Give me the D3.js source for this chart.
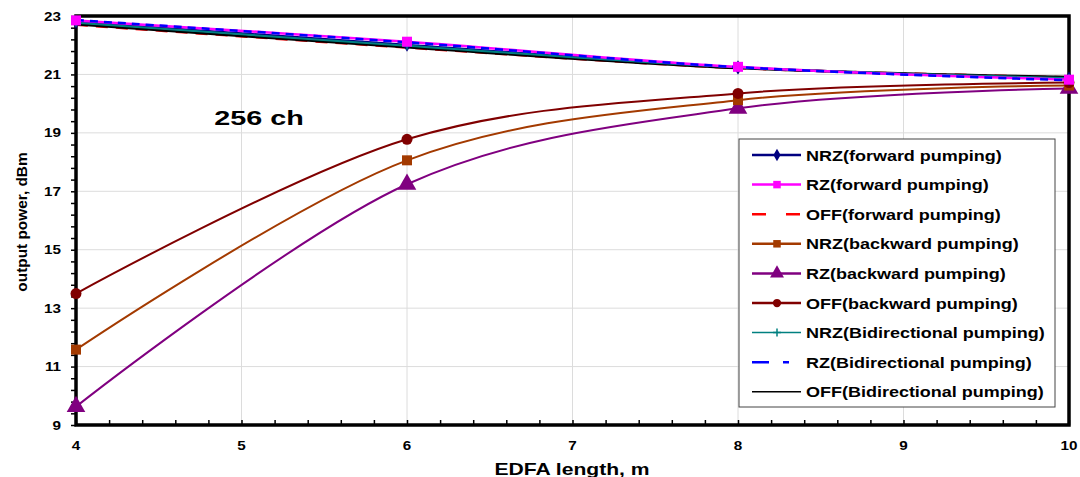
<!DOCTYPE html>
<html>
<head>
<meta charset="utf-8">
<script src="https://cdn.jsdelivr.net/npm/d3@7"></script>
<style>
body { margin:0; background:#fff; }
text { font-family: Arial, "Liberation Sans", sans-serif; font-weight: bold; }
</style>
</head>
<body>
<svg id="svg" width="1080" height="477"></svg>
<script>
var svg = d3.select("#svg");

var lengths = [4, 6, 8, 10];
var xTicks = [4, 5, 6, 7, 8, 9, 10],
    yTicks = [9, 11, 13, 15, 17, 19, 21, 23];

var nrzFwd  = [22.80, 22.02, 21.24, 20.85],
    rzFwd   = [22.85, 22.12, 21.26, 20.82],
    offFwd  = [22.70, 21.92, 21.22, 20.90],
    nrzBwd  = [11.58, 18.06, 20.12, 20.62],
    rzBwd   = [9.63, 17.24, 19.84, 20.52],
    offBwd  = [13.50, 18.78, 20.35, 20.72],
    nrzBi   = [22.77, 21.98, 21.24, 20.88],
    rzBi    = [22.86, 22.10, 21.25, 20.80],
    offBi   = [22.72, 21.93, 21.22, 20.91];

var names = ["NRZ(forward pumping)", "RZ(forward pumping)", "OFF(forward pumping)",
             "NRZ(backward pumping)", "RZ(backward pumping)", "OFF(backward pumping)",
             "NRZ(Bidirectional pumping)", "RZ(Bidirectional pumping)", "OFF(Bidirectional pumping)"];

var series = [
    {v:rzBwd,  c:"#800080", m:"tri",     dash:null, w:2},
    {v:nrzBwd, c:"#a33a00", m:"square",  dash:null, w:2},
    {v:offBwd, c:"#800000", m:"circle",  dash:null, w:2},
    {v:offFwd, c:"#ff0000", m:null,      dash:"12,8", w:2.5},
    {v:offBi,  c:"#000000", m:null,      dash:null, w:2.5},
    {v:nrzFwd, c:"#000080", m:"diamond", dash:null, w:2},
    {v:nrzBi,  c:"#008080", m:"plus",    dash:null, w:2},
    {v:rzFwd,  c:"#ff00ff", m:"square",  dash:null, w:2.5},
    {v:rzBi,   c:"#0000ff", m:null,      dash:"8,6", w:2.5}
];
// legend order
var legend = [5, 7, 3, 1, 0, 2, 6, 8, 4].map(function(i){ return series[i]; });

var x = d3.scaleLinear().domain([4, 10]).range([76, 1069]),
    y = d3.scaleLinear().domain([9, 23]).range([425, 16]);

// stretched text like the original
function label(g, tx, ty, size, sx, anchor, str) {
    return g.append("text").attr("transform", "translate(" + tx + "," + ty + ") scale(" + sx + ",1)")
        .attr("font-size", size).attr("text-anchor", anchor).text(str);
}

// grid
svg.append("g").selectAll().data(xTicks.slice(1)).enter().append("line")
    .attr("x1", d=>x(d)).attr("x2", d=>x(d)).attr("y1", y(23)).attr("y2", y(9))
    .attr("stroke", "#dcdcdc").attr("stroke-width", 1);
svg.append("g").selectAll().data(yTicks.slice(1)).enter().append("line")
    .attr("x1", x(4)).attr("x2", x(10)).attr("y1", d=>y(d)).attr("y2", d=>y(d))
    .attr("stroke", "#dcdcdc").attr("stroke-width", 1);

// axes
var yAxis = svg.append("g").attr("transform", "translate(" + x(4) + ",0)")
    .call(d3.axisLeft(y).tickValues(d3.range(9, 23.01, 0.4)).tickSize(5).tickFormat(""));
var xAxis = svg.append("g").attr("transform", "translate(0," + y(9) + ")")
    .call(d3.axisTop(x).tickValues(d3.range(4, 10.01, 0.2)).tickSize(5).tickFormat(""));
[yAxis, xAxis].forEach(function(a){
    a.select(".domain").remove();
    a.selectAll("line").attr("stroke", "#000").attr("stroke-width", 1.5);
});
yTicks.forEach(function(d){ label(svg, 61, y(d) + 4.5, 12.5, 1.22, "end", d); });
xTicks.forEach(function(d){ label(svg, x(d), 450, 12.5, 1.22, "middle", d); });

// frame
svg.append("path")
    .attr("d", "M" + x(4) + "," + y(9) + "H" + x(10) + "V" + y(23) + "H" + x(4) + "Z")
    .attr("fill", "none").attr("stroke", "#000").attr("stroke-width", 3.5);

svg.append("text").attr("transform", "translate(27,222) rotate(-90) scale(1.1,1)")
    .attr("text-anchor", "middle").attr("font-size", 14).text("output power, dBm");
label(svg, 572, 475, 16.5, 1.28, "middle", "EDFA length, m");
label(svg, 259, 125, 21, 1.37, "middle", "256 ch");

// lines
var line = d3.line().x((d, i)=>x(lengths[i])).y(d=>y(d)).curve(d3.curveCardinal.tension(0));
svg.append("g").selectAll().data(series).enter().append("path")
    .attr("d", d=>line(d.v)).attr("fill", "none")
    .attr("stroke", d=>d.c).attr("stroke-width", d=>d.w)
    .attr("stroke-dasharray", d=>d.dash);

function marker(g, m, c, big) {
    var s = big ? 1 : 0.75;
    if (m == "tri") g.append("path").attr("d", d3.symbol(d3.symbolTriangle, 150*s*s)).attr("fill", c);
    if (m == "square") g.append("rect").attr("x", -5*s).attr("y", -5*s).attr("width", 10*s).attr("height", 10*s).attr("fill", c);
    if (m == "circle") g.append("circle").attr("r", 5.5*s).attr("fill", c);
    if (m == "diamond") g.append("path").attr("d", d3.symbol(d3.symbolDiamond, 60*s)).attr("fill", c);
    if (m == "plus") g.append("path").attr("d", "M-4,0H4M0,-4V4").attr("stroke", c).attr("stroke-width", 1.5);
}

series.forEach(function(s){
    if (!s.m) return;
    svg.append("g").selectAll().data(s.v).enter().append("g")
        .attr("transform", (d, i)=>"translate(" + x(lengths[i]) + "," + y(d) + ")")
        .each(function(){ marker(d3.select(this), s.m, s.c, true); });
});

// legend
var lg = svg.append("g").attr("transform", "translate(739,139)");
lg.append("rect").attr("width", 316).attr("height", 268).attr("fill", "#fff")
    .attr("stroke", "#444").attr("stroke-width", 1);
var items = lg.selectAll().data(legend).enter().append("g")
    .attr("transform", (d, i)=>"translate(0," + (16 + i*29.6) + ")");
items.append("line").attr("x1", 13).attr("x2", 62)
    .attr("stroke", d=>d.c).attr("stroke-width", d=>d.c == "#008080" || d.c == "#000000" ? 1.5 : 2.5)
    .attr("stroke-dasharray", d=>d.c == "#ff0000" ? "14,20" : d.c == "#0000ff" ? "17,14,6,20" : null);
items.filter(d=>d.m).append("g").attr("transform", "translate(38,0)")
    .each(function(d){ marker(d3.select(this), d.m, d.c, false); });
items.each(function(d, i){ label(d3.select(this), 67, 5.5, 15, 1.2, "start", names[i]); });
</script>
</body>
</html>
